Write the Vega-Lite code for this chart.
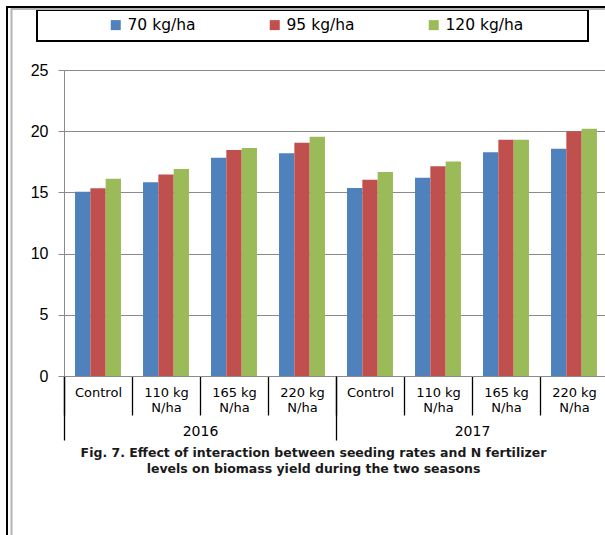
{
  "$schema": "https://vega.github.io/schema/vega-lite/v6.json",
  "width": 544,
  "height": 306,
  "autosize": {"type": "none"},
  "padding": {"left": 64, "top": 70, "right": 0, "bottom": 159},
  "background": "white",
  "config": {"legend": {"strokeWidth": 2}},
  "data": {
    "values": [
      {"year": "2016", "key": "2016_Control", "seed": "70 kg/ha", "value": 15.05},
      {"year": "2016", "key": "2016_Control", "seed": "95 kg/ha", "value": 15.33},
      {"year": "2016", "key": "2016_Control", "seed": "120 kg/ha", "value": 16.12},
      {"year": "2016", "key": "2016_110 kg_N/ha", "seed": "70 kg/ha", "value": 15.82},
      {"year": "2016", "key": "2016_110 kg_N/ha", "seed": "95 kg/ha", "value": 16.47},
      {"year": "2016", "key": "2016_110 kg_N/ha", "seed": "120 kg/ha", "value": 16.91},
      {"year": "2016", "key": "2016_165 kg_N/ha", "seed": "70 kg/ha", "value": 17.84},
      {"year": "2016", "key": "2016_165 kg_N/ha", "seed": "95 kg/ha", "value": 18.46},
      {"year": "2016", "key": "2016_165 kg_N/ha", "seed": "120 kg/ha", "value": 18.63},
      {"year": "2016", "key": "2016_220 kg_N/ha", "seed": "70 kg/ha", "value": 18.19},
      {"year": "2016", "key": "2016_220 kg_N/ha", "seed": "95 kg/ha", "value": 19.06},
      {"year": "2016", "key": "2016_220 kg_N/ha", "seed": "120 kg/ha", "value": 19.55},
      {"year": "2017", "key": "2017_Control", "seed": "70 kg/ha", "value": 15.36},
      {"year": "2017", "key": "2017_Control", "seed": "95 kg/ha", "value": 16.04},
      {"year": "2017", "key": "2017_Control", "seed": "120 kg/ha", "value": 16.67},
      {"year": "2017", "key": "2017_110 kg_N/ha", "seed": "70 kg/ha", "value": 16.2},
      {"year": "2017", "key": "2017_110 kg_N/ha", "seed": "95 kg/ha", "value": 17.13},
      {"year": "2017", "key": "2017_110 kg_N/ha", "seed": "120 kg/ha", "value": 17.52},
      {"year": "2017", "key": "2017_165 kg_N/ha", "seed": "70 kg/ha", "value": 18.28},
      {"year": "2017", "key": "2017_165 kg_N/ha", "seed": "95 kg/ha", "value": 19.3},
      {"year": "2017", "key": "2017_165 kg_N/ha", "seed": "120 kg/ha", "value": 19.3},
      {"year": "2017", "key": "2017_220 kg_N/ha", "seed": "70 kg/ha", "value": 18.56},
      {"year": "2017", "key": "2017_220 kg_N/ha", "seed": "95 kg/ha", "value": 20.0},
      {"year": "2017", "key": "2017_220 kg_N/ha", "seed": "120 kg/ha", "value": 20.2}
    ]
  },
  "layer": [
    {
      "mark": {"type": "bar"},
      "encoding": {
        "x": {
          "field": "key", "type": "nominal", "sort": null,
          "scale": {"paddingInner": 0, "paddingOuter": 0},
          "axis": {
            "title": null, "orient": "bottom", "tickBand": "extent", "tickSize": 39,
            "tickColor": "#000", "tickWidth": 1.3, "domainColor": "#8a8a8a",
            "labelExpr": "slice(split(datum.value, '_'), 1)",
            "labelAngle": 0, "labelPadding": -29, "labelFontSize": 13, "labelLineHeight": 15,
            "labelFont": "DejaVu Sans", "labelColor": "#000", "labelOverlap": false
          }
        },
        "xOffset": {"field": "seed", "type": "nominal", "sort": null, "scale": {"paddingInner": 0, "paddingOuter": 0.72}},
        "y": {
          "field": "value", "type": "quantitative",
          "scale": {"domain": [0, 25]},
          "axis": {
            "title": null, "values": [0, 5, 10, 15, 20, 25], "grid": true,
            "gridColor": "#8a8a8a", "gridWidth": 1, "domainColor": "#8a8a8a",
            "tickColor": "#8a8a8a", "tickSize": 6, "labelFontSize": 16,
            "labelFont": "Liberation Sans", "labelColor": "#000", "labelPadding": 10
          }
        },
        "color": {
          "field": "seed", "type": "nominal", "sort": null,
          "scale": {"range": ["#4F81BD", "#C0504D", "#9BBB59"]},
          "legend": {
            "orient": "none", "legendX": -27, "legendY": -60,
            "direction": "horizontal", "columns": 3, "gridAlign": "all",
            "title": " ", "titleOrient": "left", "titlePadding": 64, "titleFontSize": 6,
            "padding": 7, "strokeColor": "#000",
            "symbolType": "square", "symbolSize": 100, "symbolStrokeWidth": 0, "symbolOpacity": 1,
            "labelFont": "DejaVu Sans", "labelFontSize": 15.5, "labelColor": "#000",
            "labelOffset": 4, "columnPadding": 4, "labelLimit": 400,
            "labelExpr": "datum.label + '\u2800\u2800\u2800\u2800\u2800'"
          }
        }
      }
    },
    {
      "mark": {"type": "rule", "opacity": 0},
      "encoding": {
        "x": {
          "field": "year", "type": "nominal",
          "scale": {"paddingInner": 0, "paddingOuter": 0},
          "axis": {
            "orient": "bottom", "tickBand": "extent", "tickSize": 64,
            "tickColor": "#000", "tickWidth": 1.3, "domain": false,
            "labelAngle": 0, "labelPadding": -16, "labelFontSize": 14,
            "labelFont": "DejaVu Sans", "labelColor": "#000",
            "title": ["Fig. 7. Effect of interaction between seeding rates and N fertilizer", "levels on biomass yield during the two seasons"],
            "titleFont": "DejaVu Sans", "titleFontSize": 12.5, "titleFontWeight": "bold",
            "titleColor": "#1a1a1a", "titleLineHeight": 16,
            "titleX": 249, "titleY": 70, "titleAlign": "center", "titleBaseline": "top", "titleAngle": 0
          }
        },
        "strokeDash": {
          "field": "year", "type": "nominal",
          "legend": {
            "orient": "none", "legendX": -57, "legendY": -63, "title": null,
            "padding": 270, "strokeColor": "#000", "symbolOpacity": 0, "labelExpr": "''",
            "direction": "horizontal", "columns": 2, "symbolSize": 400
          }
        },
        "size": {
          "field": "key", "type": "ordinal", "sort": null,
          "legend": {
            "orient": "none", "legendX": -52.5, "legendY": -61, "title": null,
            "padding": 270, "strokeColor": "#b4b4b4", "symbolOpacity": 0, "labelExpr": "''",
            "direction": "horizontal", "columns": 8
          }
        }
      }
    }
  ],
  "resolve": {"scale": {"x": "independent"}, "axis": {"x": "independent"}}
}
